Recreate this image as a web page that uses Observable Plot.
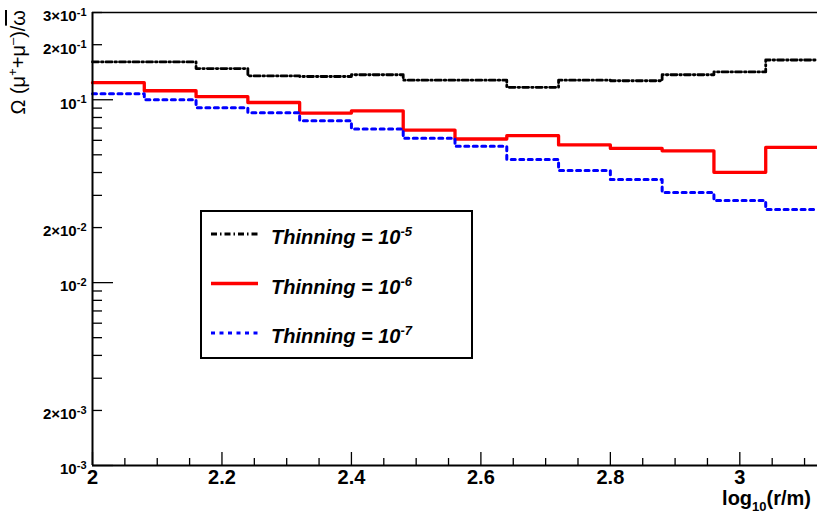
<!DOCTYPE html>
<html><head><meta charset="utf-8">
<script src="https://cdn.jsdelivr.net/npm/d3@7"></script>
<script src="https://cdn.jsdelivr.net/npm/@observablehq/plot@0.6"></script>
<style>
body{margin:0;background:#fff;}
#chart svg{display:block;}
</style>
</head><body><div id="chart"></div>
<script>
// Bin edges of the histograms (log10(r/m))
const binEdges = [2.00, 2.08, 2.16, 2.24, 2.32, 2.40, 2.48, 2.56, 2.64, 2.72, 2.80, 2.88, 2.96, 3.04, 3.12];
// Series values per bin
const thinning5 = [0.161, 0.161, 0.148, 0.135, 0.134, 0.137, 0.128, 0.128, 0.117, 0.128, 0.127, 0.137, 0.142, 0.165];
const thinning6 = [0.124, 0.112, 0.104, 0.0966, 0.0846, 0.087, 0.0683, 0.061, 0.0636, 0.0566, 0.0542, 0.0526, 0.0401, 0.0549];
const thinning7 = [0.108, 0.100, 0.0904, 0.0849, 0.0768, 0.0692, 0.0615, 0.0556, 0.0472, 0.041, 0.0366, 0.0311, 0.0281, 0.0251];
const legendExponents = ["-5", "-6", "-7"];
// Tick values
const xMajorTicks = [2, 2.2, 2.4, 2.6, 2.8, 3];
const xMinorTicks = [2.05, 2.1, 2.15, 2.25, 2.3, 2.35, 2.45, 2.5, 2.55, 2.65, 2.7, 2.75, 2.85, 2.9, 2.95, 3.05, 3.1];
const yLabelTicks = [1e-3, 2e-3, 1e-2, 2e-2, 1e-1, 2e-1, 3e-1];
const yMajorTicks = [1e-3, 1e-2, 1e-1];
const yMinorTicks = [2e-3, 3e-3, 4e-3, 5e-3, 6e-3, 7e-3, 8e-3, 9e-3, 2e-2, 3e-2, 4e-2, 5e-2, 6e-2, 7e-2, 8e-2, 9e-2, 2e-1, 3e-1];

function stepRows(vals) {
  const rows = vals.map((v, i) => ({x: binEdges[i], y: v}));
  rows.push({x: binEdges[binEdges.length - 1], y: vals[vals.length - 1]});
  return rows;
}
function fmtY(v) {
  const e = Math.floor(Math.log10(v) + 1e-9);
  const m = Math.round(v / Math.pow(10, e));
  return (m === 1 ? "10" : m + "\u00D710") + "^" + e;
}
const FONT = "'Liberation Sans', Arial, Helvetica, sans-serif";
const series = [
  {rows: stepRows(thinning5), stroke: "#000000", width: 2.8, dash: "6,3,1.5,3"},
  {rows: stepRows(thinning6), stroke: "#ff0000", width: 3.3, dash: null},
  {rows: stepRows(thinning7), stroke: "#0000ff", width: 3, dash: "4,4.5"}
];

const chart = Plot.plot({
  width: 817, height: 517,
  marginLeft: 92, marginRight: 0, marginTop: 12, marginBottom: 52,
  style: {fontFamily: FONT, background: "white", color: "black"},
  x: {domain: [2, 3.12]},
  y: {type: "log", domain: [1e-3, 0.3]},
  marks: [
    ...series.map(s => Plot.line(s.rows, {x: "x", y: "y", curve: "step-after", stroke: s.stroke, strokeWidth: s.width, strokeDasharray: s.dash})),
    Plot.ruleY([0.3], {strokeWidth: 1.5}),
    Plot.ruleX([2], {strokeWidth: 2}),
    Plot.ruleY([1e-3], {strokeWidth: 2}),
    Plot.axisX({ticks: xMajorTicks, tickSize: -13, tickFormat: () => "", label: null, strokeWidth: 1.3}),
    Plot.axisX({ticks: xMinorTicks, tickSize: -7, tickFormat: () => "", label: null, strokeWidth: 1.3}),
    Plot.axisX({ticks: xMajorTicks, tickSize: 0, tickPadding: 4, tickFormat: d => String(d), label: null, fontSize: 20, fontWeight: "bold"}),
    Plot.axisY({ticks: yMajorTicks, tickSize: -21, tickFormat: () => "", label: null, strokeWidth: 1.3}),
    Plot.axisY({ticks: yMinorTicks, tickSize: -10, tickFormat: () => "", label: null, strokeWidth: 1.3}),
    Plot.axisY({ticks: yLabelTicks, tickSize: 0, tickPadding: 6, tickFormat: fmtY, label: null, fontSize: 15, fontWeight: "bold", dy: 4})
  ]
});
document.getElementById("chart").appendChild(chart);

const svg = d3.select(chart);
// superscripts in y tick labels
svg.selectAll('g[aria-label="y-axis tick label"] text').each(function () {
  const t = this.textContent;
  if (!t.includes("^")) return;
  const [base, exp] = t.split("^");
  const sel = d3.select(this);
  sel.text(null);
  sel.append("tspan").text(base);
  sel.append("tspan").attr("dy", "-0.5em").attr("font-size", "11px").text(exp);
});

// x axis label
const xl = svg.append("text").attr("x", 811).attr("y", 505).attr("text-anchor", "end")
  .attr("font-family", FONT).attr("font-size", 20).attr("font-weight", "bold");
xl.append("tspan").text("log");
xl.append("tspan").attr("font-size", 13).attr("dy", 6).text("10");
xl.append("tspan").attr("dy", -6).text("(r/m)");

// y axis label
const yl = svg.append("text").attr("transform", "translate(25,10) rotate(-90)").attr("text-anchor", "end")
  .attr("font-family", FONT).attr("font-size", 20);
yl.append("tspan").text("\u03A9 (\u03BC");
yl.append("tspan").attr("font-size", 13).attr("dy", -8).text("+");
yl.append("tspan").attr("dy", 8).text("+\u03BC");
yl.append("tspan").attr("font-size", 13).attr("dy", -8).text("\u2013");
yl.append("tspan").attr("dy", 8).text(")/");
yl.append("tspan").attr("text-decoration", "overline").text("\u03C9");

// legend
const lg = svg.append("g");
lg.append("rect").attr("x", 201).attr("y", 211).attr("width", 271).attr("height", 147)
  .attr("fill", "white").attr("stroke", "black").attr("stroke-width", 2);
series.forEach((s, i) => {
  const yy = 234 + i * 49.5;
  lg.append("line").attr("x1", 211).attr("x2", 258).attr("y1", yy).attr("y2", yy)
    .attr("stroke", s.stroke).attr("stroke-width", s.width).attr("stroke-dasharray", s.dash);
  const t = lg.append("text").attr("x", 271).attr("y", yy + 10).attr("text-anchor", "start")
    .attr("font-family", FONT).attr("font-size", 20).attr("font-weight", "bold").attr("font-style", "italic");
  t.append("tspan").text("Thinning = 10");
  t.append("tspan").attr("dy", -8).attr("font-size", 13).text(legendExponents[i]);
});
</script>
</body></html>
